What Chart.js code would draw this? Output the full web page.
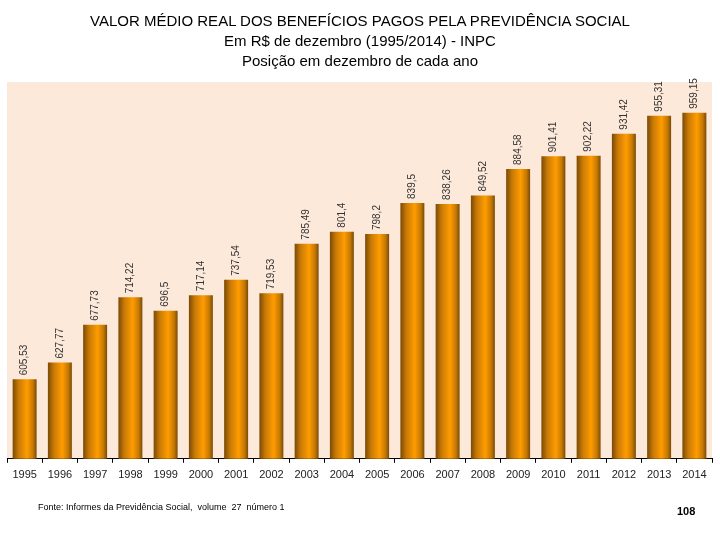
<!DOCTYPE html>
<html lang="pt">
<head>
  <meta charset="UTF-8">
  <script src="https://cdn.jsdelivr.net/npm/chart.js"></script>
  <title>Valor médio real dos benefícios</title>
  <style>
    body { margin: 0; background: #fff; font-family: Arial, "Liberation Sans", sans-serif; }
    #wrap { position: relative; width: 720px; height: 540px; }
    #titulo { position: absolute; top: 11px; left: 0; width: 720px; text-align: center; font-size: 15px; line-height: 20px; color: #000; }
    #fonte { position: absolute; left: 38px; top: 502px; font-size: 9px; color: #000; }
    #pagina { position: absolute; left: 677px; top: 505px; font-size: 11px; font-weight: bold; color: #000; }
  </style>
</head>
<body>
  <div id="wrap">
    <canvas id="grafico" width="720" height="540"></canvas>
    <div id="titulo">VALOR MÉDIO REAL DOS BENEFÍCIOS PAGOS PELA PREVIDÊNCIA SOCIAL<br>Em R$ de dezembro (1995/2014) - INPC<br>Posição em dezembro de cada ano</div>
    <div id="fonte">Fonte: Informes da Previdência Social,&nbsp; volume&nbsp; 27&nbsp; número 1</div>
    <div id="pagina">108</div>
  </div>
<script>
  const anos = ['1995', '1996', '1997', '1998', '1999', '2000', '2001', '2002', '2003', '2004',
                '2005', '2006', '2007', '2008', '2009', '2010', '2011', '2012', '2013', '2014'];
  const valores = [605.53, 627.77, 677.73, 714.22, 696.5, 717.14, 737.54, 719.53, 785.49, 801.4,
                   798.2, 839.5, 838.26, 849.52, 884.58, 901.41, 902.22, 931.42, 955.31, 959.15];
  const eixoMin = 500;
  const eixoMax = 1000;

  const larguraBarra = 0.68;

  // cilindro: bordas escuras, centro laranja
  function corBarra(ctx) {
    const chart = ctx.chart;
    const x = chart.scales && chart.scales.x;
    if (!chart.chartArea || !x) return '#f39200';
    const cx = x.getPixelForValue(ctx.dataIndex);
    const w = (chart.chartArea.width / anos.length) * larguraBarra;
    const g = chart.ctx.createLinearGradient(cx - w / 2, 0, cx + w / 2, 0);
    g.addColorStop(0, '#7a4a05');
    g.addColorStop(0.25, '#c97a06');
    g.addColorStop(0.6, '#ff9c00');
    g.addColorStop(0.85, '#c47804');
    g.addColorStop(1, '#7a4a05');
    return g;
  }

  const fundo = {
    id: 'fundo',
    beforeDraw(chart) {
      const a = chart.chartArea;
      const c = chart.ctx;
      c.save();
      c.fillStyle = '#fde9da';
      c.fillRect(a.left, a.top, a.right - a.left, a.bottom - a.top);
      c.restore();
    }
  };

  const rotulos = {
    id: 'rotulos',
    afterDatasetsDraw(chart) {
      const c = chart.ctx;
      const meta = chart.getDatasetMeta(0);
      c.save();
      c.fillStyle = '#333';
      c.font = '10px Arial, "Liberation Sans", sans-serif';
      c.textAlign = 'left';
      c.textBaseline = 'middle';
      meta.data.forEach((bar, i) => {
        const txt = String(valores[i]).replace('.', ',');
        c.save();
        c.translate(bar.x, bar.y - 4);
        c.rotate(-Math.PI / 2);
        c.fillText(txt, 0, 0);
        c.restore();
      });
      c.restore();
    }
  };

  new Chart(document.getElementById('grafico'), {
    type: 'bar',
    data: {
      labels: anos,
      datasets: [{
        data: valores,
        backgroundColor: corBarra,
        borderWidth: 0,
        barPercentage: larguraBarra,
        categoryPercentage: 1
      }]
    },
    options: {
      responsive: false,
      animation: false,
      layout: { padding: { top: 82, left: 7, right: 8, bottom: 52 } },
      plugins: {
        legend: { display: false },
        title: { display: false },
        tooltip: { enabled: false }
      },
      scales: {
        x: {
          grid: { display: true, drawOnChartArea: false, tickLength: 4, color: '#000', offset: true },
          border: { display: true, color: '#000', width: 1 },
          ticks: { color: '#222', font: { size: 11, family: 'Arial, "Liberation Sans", sans-serif' }, padding: 6, maxRotation: 0, autoSkip: false }
        },
        y: {
          display: false,
          min: eixoMin,
          max: eixoMax
        }
      }
    },
    plugins: [fundo, rotulos]
  });
</script>
</body>
</html>
